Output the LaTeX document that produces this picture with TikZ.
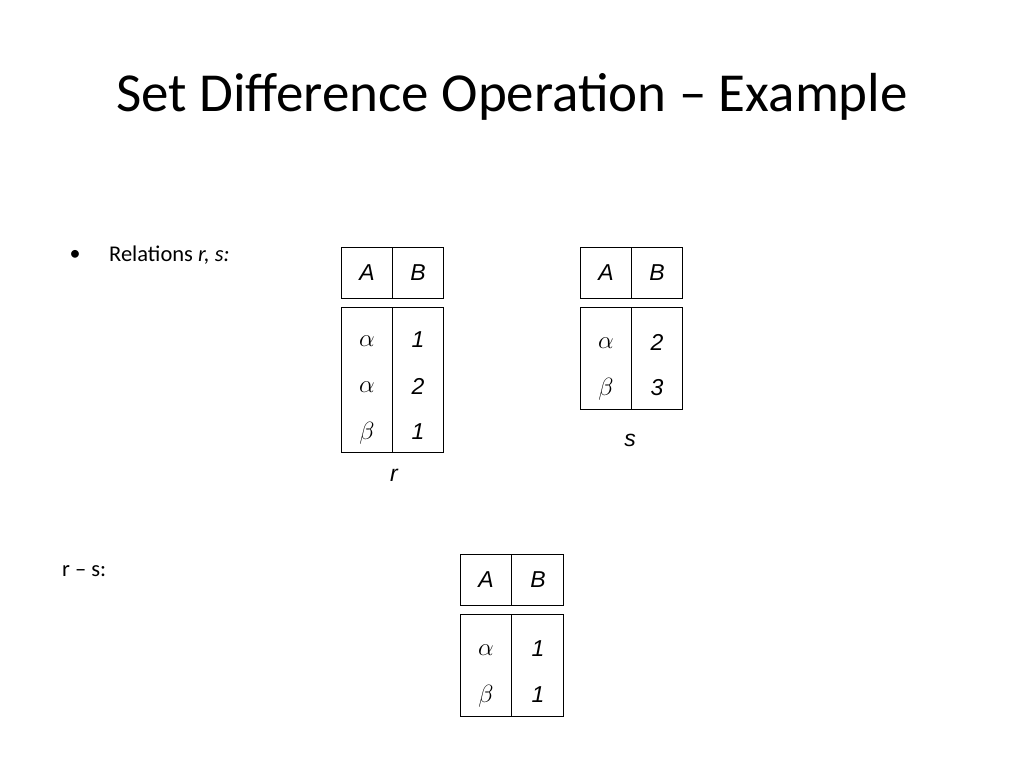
\documentclass[tikz,border=0pt]{standalone}
\usepackage{fontspec}
\setmainfont{Carlito}
\newfontfamily\arialf{Liberation Sans}
\begin{document}
\begin{tikzpicture}[x=1pt,y=-1pt,
  tx/.style={font=\arialf\itshape\fontsize{23}{27}\selectfont},
  gk/.style={font=\fontsize{23}{27}\selectfont}]
\useasboundingbox (0,0) rectangle (1024,768);
\node (title) at (512,97) {\fontsize{55}{64}\selectfont Set Difference Operation -- Example};
\node (bul) at (75,255) {\fontsize{22}{26}\selectfont •};
\node[anchor=west,inner sep=0pt] (rel) at (109,255) {\fontsize{22.5}{26}\selectfont Relations \textit{r, s:}};
\node[anchor=west,inner sep=0pt] (rms) at (62,571) {\fontsize{22.5}{26}\selectfont r -- s:};
\tikzset{every path/.style={line width=1pt}}
% r
\draw (341,247) rectangle (443,298) (392,247)--(392,298);
\draw (341,307) rectangle (443,452) (392,307)--(392,452);
\node[tx] (rA) at (367,273) {A}; \node[tx] (rB) at (418,273) {B};
\node[gk] at (367,341) {$\alpha$}; \node[tx] at (418,340) {1};
\node[gk] at (367,387) {$\alpha$}; \node[tx] at (418,386) {2};
\node[gk] at (367,433) {$\beta$}; \node[tx] at (418,432) {1};
\node[tx] (rl) at (394,475) {r};
% s
\draw (580,247) rectangle (682,298) (631,247)--(631,298);
\draw (580,307) rectangle (682,409) (631,307)--(631,409);
\node[tx] (sA) at (606,273) {A}; \node[tx] (sB) at (657,273) {B};
\node[gk] at (606,343) {$\alpha$}; \node[tx] at (657,342) {2};
\node[gk] at (606,389) {$\beta$}; \node[tx] at (657,388) {3};
\node[tx] (sl) at (630,440) {s};
% r-s
\draw (460,554) rectangle (563,605) (511,554)--(511,605);
\draw (460,614) rectangle (563,716) (511,614)--(511,716);
\node[tx] (tA) at (486,580) {A}; \node[tx] (tB) at (538,580) {B};
\node[gk] at (486,650) {$\alpha$}; \node[tx] at (538,649) {1};
\node[gk] at (486,696) {$\beta$}; \node[tx] at (538,695) {1};
\end{tikzpicture}
\end{document}
